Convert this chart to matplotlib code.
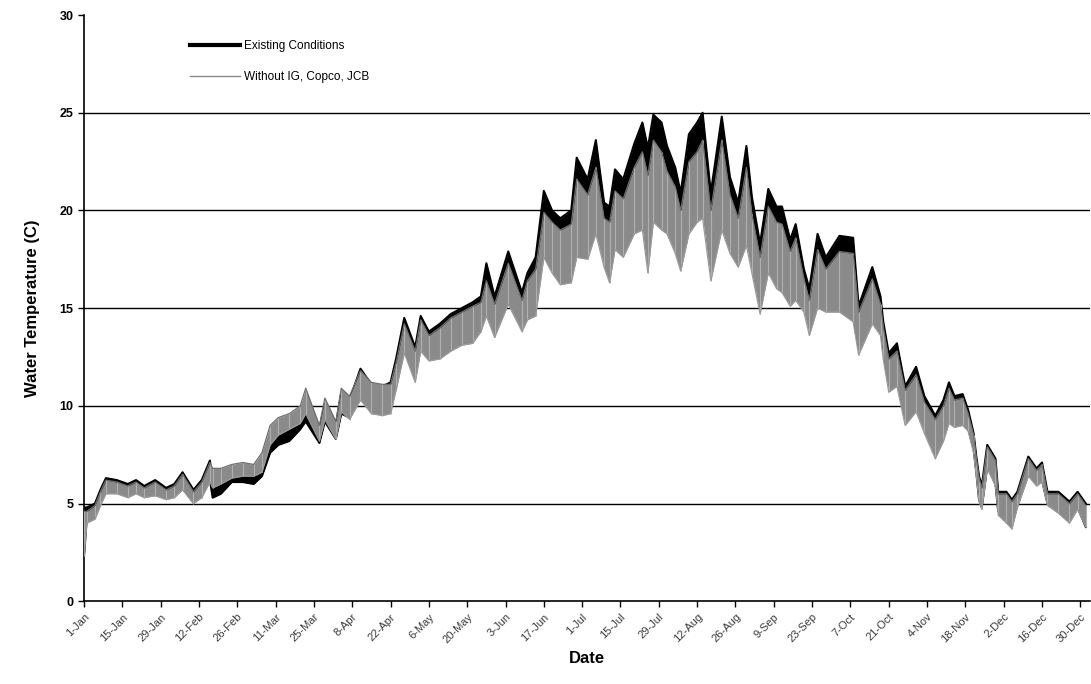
import numpy as np
import matplotlib
matplotlib.use("Agg")
import matplotlib.pyplot as plt
from matplotlib.lines import Line2D

plt.rcParams['font.family'] = ['Liberation Sans', 'DejaVu Sans']

# day of year (0 = 1-Jan, leap year) and daily high / low envelope, deg C
days = [0, 1, 4, 6, 8, 12, 16, 19, 22, 26, 30, 33, 36, 40, 43, 46, 47, 50, 54, 58,
        62, 65, 68, 71, 75, 79, 81, 86, 88, 92, 94, 97, 101, 105, 109, 112, 114, 117,
        121, 123, 126, 130, 134, 138, 142, 145, 147, 150, 155, 160, 162, 165, 168,
        171, 174, 178, 180, 184, 187, 190, 192, 194, 197, 201, 204, 206, 208, 211,
        213, 216, 218, 221, 224, 226, 229, 233, 236, 239, 242, 244, 247, 250, 253,
        255, 258, 260, 263, 265, 268, 271, 276, 281, 283, 288, 291, 292, 294, 297,
        300, 304, 307, 311, 314, 316, 318, 321, 323, 325, 326, 327, 328, 330, 333,
        334, 337, 339, 341, 345, 348, 350, 352, 356, 360, 363, 366]

exist_hi = [4.8, 4.8, 5.0, 5.7, 6.3, 6.2, 6.0, 6.2, 5.9, 6.2, 5.8, 6.0, 6.6, 5.7, 6.2, 7.2, 6.0, 6.3, 6.9, 6.9,
            6.8, 7.3, 8.5, 9.0, 9.0, 9.6, 10.2, 8.8, 10.1, 9.0, 10.7, 10.3, 11.9, 11.1, 11.0, 11.2, 12.4, 14.5,
            13.0, 14.6, 13.8, 14.2, 14.7, 15.0, 15.3, 15.6, 17.3, 15.6, 17.9, 15.8, 16.8, 17.6, 21.0,
            20.0, 19.6, 20.0, 22.7, 21.6, 23.6, 20.4, 20.2, 22.1, 21.6, 23.4, 24.5, 23.2, 24.9, 24.5,
            23.3, 22.2, 20.9, 23.9, 24.5, 25.0, 20.9, 24.8, 21.7, 20.4, 23.3, 20.7, 18.3, 21.1, 20.2,
            20.2, 18.5, 19.3, 17.0, 16.0, 18.8, 17.6, 18.7, 18.6, 15.1, 17.1, 15.6, 14.3, 12.7, 13.2,
            11.0, 12.0, 10.5, 9.5, 10.3, 11.2, 10.5, 10.6, 9.8, 8.6, 7.4, 6.4, 5.9, 8.0, 7.3,
            5.6, 5.6, 5.2, 5.6, 7.4, 6.8, 7.1, 5.6, 5.6, 5.1, 5.6, 5.0]
exist_lo = [2.3, 4.2, 4.3, 5.0, 5.6, 5.6, 5.4, 5.6, 5.4, 5.5, 5.3, 5.4, 5.8, 5.05, 5.4, 6.2, 5.3, 5.5, 6.1, 6.1,
            6.0, 6.4, 7.6, 8.0, 8.2, 8.8, 9.2, 8.1, 9.2, 8.3, 9.6, 9.4, 10.4, 9.8, 9.7, 9.9, 11.0, 12.9,
            11.5, 13.0, 12.5, 12.6, 13.0, 13.3, 13.5, 14.0, 15.2, 13.8, 15.8, 14.0, 14.8, 15.0, 18.2,
            17.5, 16.8, 17.0, 18.2, 18.2, 19.6, 17.8, 17.0, 18.6, 18.2, 19.4, 19.8, 17.6, 20.5, 20.0,
            19.4, 18.4, 17.6, 19.6, 20.2, 20.6, 17.2, 19.8, 18.4, 17.8, 19.0, 17.6, 15.4, 17.4, 16.6,
            16.4, 15.6, 16.0, 15.2, 14.2, 15.6, 15.4, 15.4, 14.8, 13.0, 14.8, 14.2, 12.8, 11.2, 11.4,
            9.4, 10.0, 9.0, 7.8, 8.6, 9.4, 9.2, 9.4, 8.9, 7.8, 6.6, 5.2, 4.8, 6.9, 6.0,
            4.6, 4.2, 3.9, 4.9, 6.5, 6.0, 6.2, 5.0, 4.6, 4.1, 4.8, 3.8]
without_hi = [4.6, 4.6, 4.9, 5.6, 6.2, 6.1, 5.9, 6.1, 5.8, 6.1, 5.7, 5.9, 6.5, 5.6, 6.1, 7.1, 6.8, 6.8, 7.0, 7.1,
              7.0, 7.6, 9.0, 9.4, 9.6, 10.0, 10.9, 9.0, 10.4, 9.2, 10.9, 10.5, 11.8, 11.2, 11.1, 11.1, 12.2, 14.2,
              12.8, 14.4, 13.6, 14.0, 14.5, 14.8, 15.1, 15.3, 16.4, 15.2, 17.3, 15.4, 16.4, 17.0, 19.9,
              19.4, 19.0, 19.3, 21.6, 20.8, 22.2, 19.6, 19.4, 21.0, 20.6, 22.2, 23.0, 21.8, 23.6, 23.0,
              22.0, 21.2, 20.0, 22.5, 23.0, 23.6, 20.0, 23.6, 20.8, 19.6, 22.2, 19.8, 17.6, 20.2, 19.4,
              19.3, 17.9, 18.6, 16.5, 15.4, 18.0, 17.0, 17.9, 17.8, 14.8, 16.5, 15.2, 14.0, 12.4, 12.8,
              10.8, 11.6, 10.2, 9.3, 10.0, 10.9, 10.3, 10.4, 9.6, 8.5, 7.3, 6.3, 5.8, 7.9, 7.2,
              5.5, 5.5, 5.1, 5.5, 7.3, 6.7, 7.0, 5.5, 5.5, 5.0, 5.5, 4.9]
without_lo = [2.3, 4.0, 4.2, 4.9, 5.5, 5.5, 5.3, 5.5, 5.3, 5.4, 5.2, 5.3, 5.7, 5.0, 5.3, 6.1, 5.8, 6.0, 6.3, 6.4,
              6.4, 6.6, 8.0, 8.5, 8.8, 9.1, 9.6, 8.2, 9.3, 8.3, 9.7, 9.3, 10.3, 9.6, 9.5, 9.6, 10.8, 12.7,
              11.2, 12.8, 12.3, 12.4, 12.8, 13.1, 13.2, 13.8, 14.6, 13.5, 15.2, 13.8, 14.4, 14.6, 17.6,
              16.8, 16.2, 16.3, 17.6, 17.5, 18.8, 17.1, 16.3, 18.0, 17.6, 18.8, 19.0, 16.8, 19.4, 19.0,
              18.8, 17.8, 16.9, 18.8, 19.4, 19.6, 16.4, 19.0, 17.8, 17.1, 18.2, 16.8, 14.7, 16.8, 16.0,
              15.8, 15.1, 15.4, 14.8, 13.6, 15.0, 14.8, 14.8, 14.3, 12.6, 14.2, 13.6, 12.4, 10.7, 11.0,
              9.0, 9.7, 8.6, 7.3, 8.2, 9.1, 8.9, 9.0, 8.7, 7.6, 6.4, 5.1, 4.7, 6.8, 5.9,
              4.4, 4.0, 3.7, 4.8, 6.4, 5.9, 6.1, 4.9, 4.5, 4.0, 4.7, 3.8]

tick_days = list(range(0, 365, 14))
tick_labels = ['1-Jan', '15-Jan', '29-Jan', '12-Feb', '26-Feb', '11-Mar', '25-Mar', '8-Apr',
               '22-Apr', '6-May', '20-May', '3-Jun', '17-Jun', '1-Jul', '15-Jul', '29-Jul',
               '12-Aug', '26-Aug', '9-Sep', '23-Sep', '7-Oct', '21-Oct', '4-Nov', '18-Nov',
               '2-Dec', '16-Dec', '30-Dec']

fig = plt.figure(figsize=(10.91, 6.84), dpi=100)
ax = fig.add_axes([0.077, 0.121, 0.922, 0.857])

d = np.array(days)
# existing conditions: black band
ax.fill_between(d, exist_lo, exist_hi, color='black', lw=0, zorder=2)
ax.plot(d, exist_hi, color='black', lw=1.5, zorder=2.1)
ax.plot(d, exist_lo, color='black', lw=1.5, zorder=2.1)
# without dams: grey band drawn on top
ax.fill_between(d, without_lo, without_hi, color='#8a8a8a', lw=0, zorder=3)
ax.vlines(d, without_lo, without_hi, color='#b0b0b0', lw=0.8, zorder=3.1)
ax.plot(d, without_hi, color='#6e6e6e', lw=0.9, zorder=3.2)
ax.plot(d, without_lo, color='#9a9a9a', lw=0.9, zorder=3.2)

ax.set_xlim(0, 367.5)
ax.set_ylim(0, 30)
ax.set_yticks(range(0, 31, 5))
ax.set_yticklabels([str(v) for v in range(0, 31, 5)], fontsize=9, fontweight='bold')
for v in range(5, 30, 5):
    ax.axhline(v, color='black', lw=1.0, zorder=1)

ax.set_xticks(tick_days)
ax.set_xticklabels(tick_labels, rotation=45, ha='right', rotation_mode='anchor',
                   fontsize=8, color='#3a3a3a')
ax.tick_params(axis='both', direction='out', length=4, width=1)
ax.spines['top'].set_visible(False)
ax.spines['right'].set_visible(False)
ax.spines['left'].set_linewidth(1.2)
ax.spines['bottom'].set_linewidth(1.2)

ax.set_ylabel('Water Temperature (C)', fontsize=12, fontweight='bold', labelpad=14)
ax.set_xlabel('Date', fontsize=12, fontweight='bold', labelpad=4)

handles = [Line2D([], [], color='black', lw=3),
           Line2D([], [], color='#8a8a8a', lw=1)]
ax.legend(handles, ['Existing Conditions', 'Without IG, Copco, JCB'],
          loc='upper left', bbox_to_anchor=(0.095, 0.975), frameon=False,
          fontsize=8.5, handlelength=4.2, handletextpad=0.4, labelspacing=1.6)

fig.savefig('out.png', dpi=100)
